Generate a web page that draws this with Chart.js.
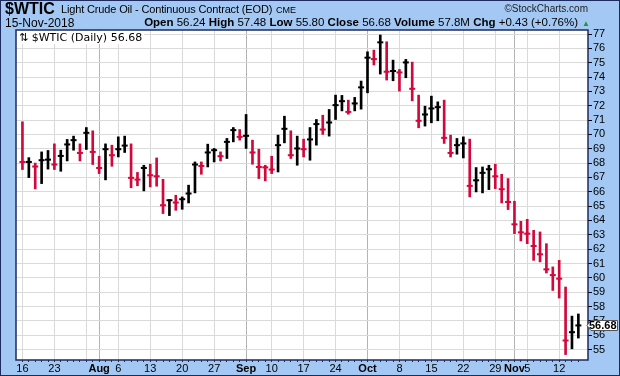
<!DOCTYPE html>
<html>
<head>
<meta charset="utf-8">
<script src="https://cdn.jsdelivr.net/npm/chart.js@4.4.1/dist/chart.umd.min.js"></script>
<style>
  html, body { margin: 0; padding: 0; }
  body { width: 620px; height: 376px; overflow: hidden; background: #a3c8f4; position: relative; font-family: "Liberation Sans", Arial, sans-serif; }
  #frame { position: absolute; left: 0; top: 0; width: 618px; height: 374px; border: 1px solid #1c2a5e; }
  canvas { position: absolute; left: 0; top: 0; }
  .t { position: absolute; white-space: nowrap; color: #000; }
  #sym { left: 5px; top: 0px; font-size: 16px; font-weight: bold; }
  #name { left: 61px; top: 3px; font-size: 11px; letter-spacing: -0.15px; }
  #exch { left: 276px; top: 5px; font-size: 9px; }
  #site { right: 32px; top: 3px; font-size: 10px; color: #222; }
  #date { left: 5px; top: 16px; font-size: 12px; }
  #stats { right: 42px; top: 16px; font-size: 11.5px; }
  #stats b { font-weight: bold; }
  #tri { left: 582px; top: 19px; font-size: 8px; color: #1a9a3a; }
  #leg { left: 17px; top: 31px; font-family: "DejaVu Sans", sans-serif; font-size: 11px; background: #fff; padding: 0 2px; }
</style>
</head>
<body>
<div id="frame"></div>
<canvas id="grafico" width="620" height="376"></canvas>
<div class="t" id="sym">$WTIC</div>
<div class="t" id="name">Light Crude Oil - Continuous Contract (EOD)</div>
<div class="t" id="exch">CME</div>
<div class="t" id="site">©StockCharts.com</div>
<div class="t" id="date">15-Nov-2018</div>
<div class="t" id="stats"><b>Open</b> 56.24 <b>High</b> 57.48 <b>Low</b> 55.80 <b>Close</b> 56.68 <b>Volume</b> 57.8M <b>Chg</b> +0.43 (+0.76%)</div>
<div class="t" id="tri">▲</div>
<div class="t" id="leg">⇅ $WTIC (Daily) 56.68</div>
<script>
// Fechas de sesión (jul-nov 2018)
const dates = [
  "2018-07-16","2018-07-17","2018-07-18","2018-07-19","2018-07-20",
  "2018-07-23","2018-07-24","2018-07-25","2018-07-26","2018-07-27",
  "2018-07-30","2018-07-31","2018-08-01","2018-08-02","2018-08-03",
  "2018-08-06","2018-08-07","2018-08-08","2018-08-09","2018-08-10",
  "2018-08-13","2018-08-14","2018-08-15","2018-08-16","2018-08-17",
  "2018-08-20","2018-08-21","2018-08-22","2018-08-23","2018-08-24",
  "2018-08-27","2018-08-28","2018-08-29","2018-08-30","2018-08-31",
  "2018-09-04","2018-09-05","2018-09-06","2018-09-07",
  "2018-09-10","2018-09-11","2018-09-12","2018-09-13","2018-09-14",
  "2018-09-17","2018-09-18","2018-09-19","2018-09-20","2018-09-21",
  "2018-09-24","2018-09-25","2018-09-26","2018-09-27","2018-09-28",
  "2018-10-01","2018-10-02","2018-10-03","2018-10-04","2018-10-05",
  "2018-10-08","2018-10-09","2018-10-10","2018-10-11","2018-10-12",
  "2018-10-15","2018-10-16","2018-10-17","2018-10-18","2018-10-19",
  "2018-10-22","2018-10-23","2018-10-24","2018-10-25","2018-10-26",
  "2018-10-29","2018-10-30","2018-10-31","2018-11-01","2018-11-02",
  "2018-11-05","2018-11-06","2018-11-07","2018-11-08","2018-11-09",
  "2018-11-12","2018-11-13","2018-11-14","2018-11-15"
];

const high = [
  70.88, 68.38, 68.00, 68.78, 68.88, 69.34, 68.90, 69.65, 69.88, 69.34,
  70.48, 70.25, 68.48, 69.34, 69.25, 69.83, 69.88, 69.34, 67.35, 67.85,
  67.92, 68.36, 66.87, 65.46, 65.76, 65.64, 66.46, 68.08, 68.08, 69.32,
  69.02, 68.78, 69.72, 70.48, 70.34, 71.39, 69.60, 68.97, 67.85, 68.48,
  69.95, 71.27, 70.25, 69.88, 69.67, 70.48, 71.04, 71.34, 71.74, 72.74,
  72.72, 72.39, 72.58, 73.72, 75.76, 75.88, 76.93, 76.46, 75.18, 74.53,
  75.23, 75.04, 72.74, 71.97, 72.67, 72.27, 72.39, 69.95, 69.72, 69.83,
  69.67, 67.69, 67.73, 67.85, 67.92, 67.22, 66.92, 65.34, 63.94, 64.08,
  63.31, 63.20, 62.38, 60.76, 61.22, 59.36, 57.33, 57.48
];
const low = [
  67.55, 66.99, 66.20, 66.57, 67.58, 67.55, 67.43, 68.15, 68.90, 68.15,
  68.95, 67.90, 67.27, 66.83, 67.78, 68.43, 68.74, 66.28, 66.42, 66.06,
  66.34, 66.39, 64.48, 64.34, 64.71, 64.78, 65.22, 65.92, 67.22, 67.73,
  68.08, 68.15, 68.32, 69.48, 69.60, 69.02, 67.92, 66.92, 66.76, 67.27,
  67.38, 69.41, 68.32, 67.85, 68.43, 68.20, 69.25, 70.00, 69.88, 71.04,
  71.64, 71.41, 71.64, 71.76, 72.90, 74.84, 74.21, 73.79, 73.74, 73.02,
  73.95, 72.34, 70.46, 70.58, 70.81, 70.95, 69.37, 68.43, 68.62, 68.36,
  65.64, 65.99, 65.92, 66.15, 66.22, 65.22, 64.76, 63.08, 62.57, 62.38,
  61.22, 61.11, 60.34, 59.12, 58.59, 54.65, 55.05, 55.80
];
const close = [
  68.08, 68.08, 67.76, 68.20, 68.24, 67.90, 68.50, 69.30, 69.60, 68.71,
  70.11, 68.78, 67.66, 68.97, 68.55, 68.97, 69.22, 66.97, 66.85, 67.66,
  67.15, 67.08, 65.06, 65.41, 65.25, 65.48, 65.88, 67.90, 67.80, 68.74,
  68.90, 68.48, 69.48, 70.30, 69.83, 69.90, 68.74, 67.73, 67.70, 67.55,
  69.25, 70.39, 68.55, 69.02, 68.97, 69.65, 70.72, 70.34, 70.83, 72.04,
  72.32, 71.57, 72.16, 73.28, 75.35, 75.25, 76.42, 74.37, 74.42, 74.32,
  75.02, 73.18, 70.95, 71.39, 71.81, 71.90, 69.76, 68.71, 69.25, 69.37,
  66.41, 66.80, 67.32, 67.57, 67.08, 66.18, 65.29, 63.73, 63.17, 63.08,
  62.22, 61.64, 60.59, 60.19, 59.94, 55.63, 56.21, 56.68
];
const priorClose = 71.01;

// Etiquetas del eje X
const tickIdx  = [0, 5, 12, 15, 20, 25, 30, 35, 39, 44, 49, 54, 59, 64, 69, 74, 77, 79, 84];
const tickText = ["16","23","Aug","6","13","20","27","Sep","10","17","24","Oct","8","15","22","29","Nov","5","12"];
const monthNames = ["Aug", "Sep", "Oct", "Nov"];
const yTicks = [55,56,57,58,59,60,61,62,63,64,65,66,67,68,69,70,71,72,73,74,75,76,77];

const RED = "#d2083c";
const NAVY = "#1c2a5e";

const colores = close.map((c, i) => (c >= (i === 0 ? priorClose : close[i - 1]) ? "#000000" : RED));
const dia = dates.map((d) => new Date(d + "T00:00:00Z"));
const inicioSemana = dia.map((d, i) => i === 0 || d.getUTCDay() < dia[i - 1].getUTCDay());
const inicioMes = dia.map((d, i) => i > 0 && d.getUTCMonth() !== dia[i - 1].getUTCMonth());

const fondo = {
  id: "fondo",
  beforeDraw(chart) {
    const { ctx, chartArea: a } = chart;
    ctx.save();
    ctx.fillStyle = "#ffffff";
    ctx.fillRect(a.left, a.top, a.right - a.left, a.bottom - a.top);
    ctx.restore();
  },
  afterDraw(chart) {
    const { ctx, chartArea: a } = chart;
    ctx.save();
    ctx.strokeStyle = NAVY;
    ctx.lineWidth = 1.5;
    ctx.strokeRect(a.left, a.top, a.right - a.left, a.bottom - a.top);
    // Etiqueta del último precio
    const last = close[close.length - 1];
    const y = Math.round(chart.scales.y.getPixelForValue(last)) + 0.5;
    const x0 = a.right, x1 = 617.5;
    ctx.beginPath();
    ctx.moveTo(x0 - 1, y);
    ctx.lineTo(x0 + 3, y - 5);
    ctx.lineTo(x1, y - 5);
    ctx.lineTo(x1, y + 5);
    ctx.lineTo(x0 + 3, y + 5);
    ctx.closePath();
    ctx.fillStyle = "#ffffff";
    ctx.fill();
    ctx.strokeStyle = "#555";
    ctx.lineWidth = 1;
    ctx.stroke();
    ctx.fillStyle = "#000";
    ctx.font = "bold 11px 'Liberation Sans', Arial, sans-serif";
    ctx.textBaseline = "middle";
    ctx.textAlign = "right";
    ctx.fillText(last.toFixed(2), x1 - 1, y + 0.5);
    ctx.restore();
  }
};

new Chart(document.getElementById("grafico"), {
  data: {
    datasets: [
      {
        type: "bar",
        data: dates.map((d, i) => ({ x: i, y: [low[i], high[i]] })),
        backgroundColor: colores,
        barThickness: 2,
        grouped: false
      },
      {
        type: "line",
        data: dates.map((d, i) => ({ x: i, y: close[i] })),
        showLine: false,
        pointStyle: "line",
        pointRadius: 3,
        pointBorderWidth: 2,
        pointBorderColor: colores,
        pointBackgroundColor: colores
      }
    ]
  },
  options: {
    responsive: false,
    animation: false,
    devicePixelRatio: 1,
    events: [],
    layout: { padding: { left: 16, top: 30, right: 2, bottom: 2 } },
    plugins: { legend: { display: false }, tooltip: { enabled: false } },
    scales: {
      x: {
        type: "linear",
        min: -0.5,
        max: 88,
        afterBuildTicks: (s) => { s.ticks = dates.map((d, i) => ({ value: i })); },
        afterFit: (s) => { s.height = 14; },
        border: { display: false },
        grid: {
          offset: false,
          tickLength: 2,
          color: (c) => {
            const i = c.tick ? c.tick.value : -1;
            if (inicioMes[i]) return "#b4b4b4";
            if (inicioSemana[i]) return "#dadada";
            return "rgba(0,0,0,0)";
          },
          tickColor: NAVY
        },
        ticks: {
          autoSkip: false,
          maxRotation: 0,
          padding: 0,
          color: "#000",
          font: (c) => ({
            family: "'Liberation Sans', Arial, sans-serif",
            size: 11,
            weight: c.tick && monthNames.includes(tickText[tickIdx.indexOf(c.tick.value)]) ? "bold" : "normal"
          }),
          callback: (v) => { const k = tickIdx.indexOf(v); return k >= 0 ? tickText[k] : ""; }
        }
      },
      y: {
        position: "right",
        min: 54.27,
        max: 77.28,
        afterBuildTicks: (s) => { s.ticks = yTicks.map((v) => ({ value: v })); },
        afterFit: (s) => { s.width = 30; },
        border: { display: false },
        grid: { color: "#dadada", tickLength: 4, tickColor: "#000" },
        ticks: {
          autoSkip: false,
          padding: 1,
          color: "#000",
          font: { family: "'Liberation Sans', Arial, sans-serif", size: 11 },
          callback: (v) => v
        }
      }
    }
  },
  plugins: [fondo]
});
</script>
</body>
</html>
